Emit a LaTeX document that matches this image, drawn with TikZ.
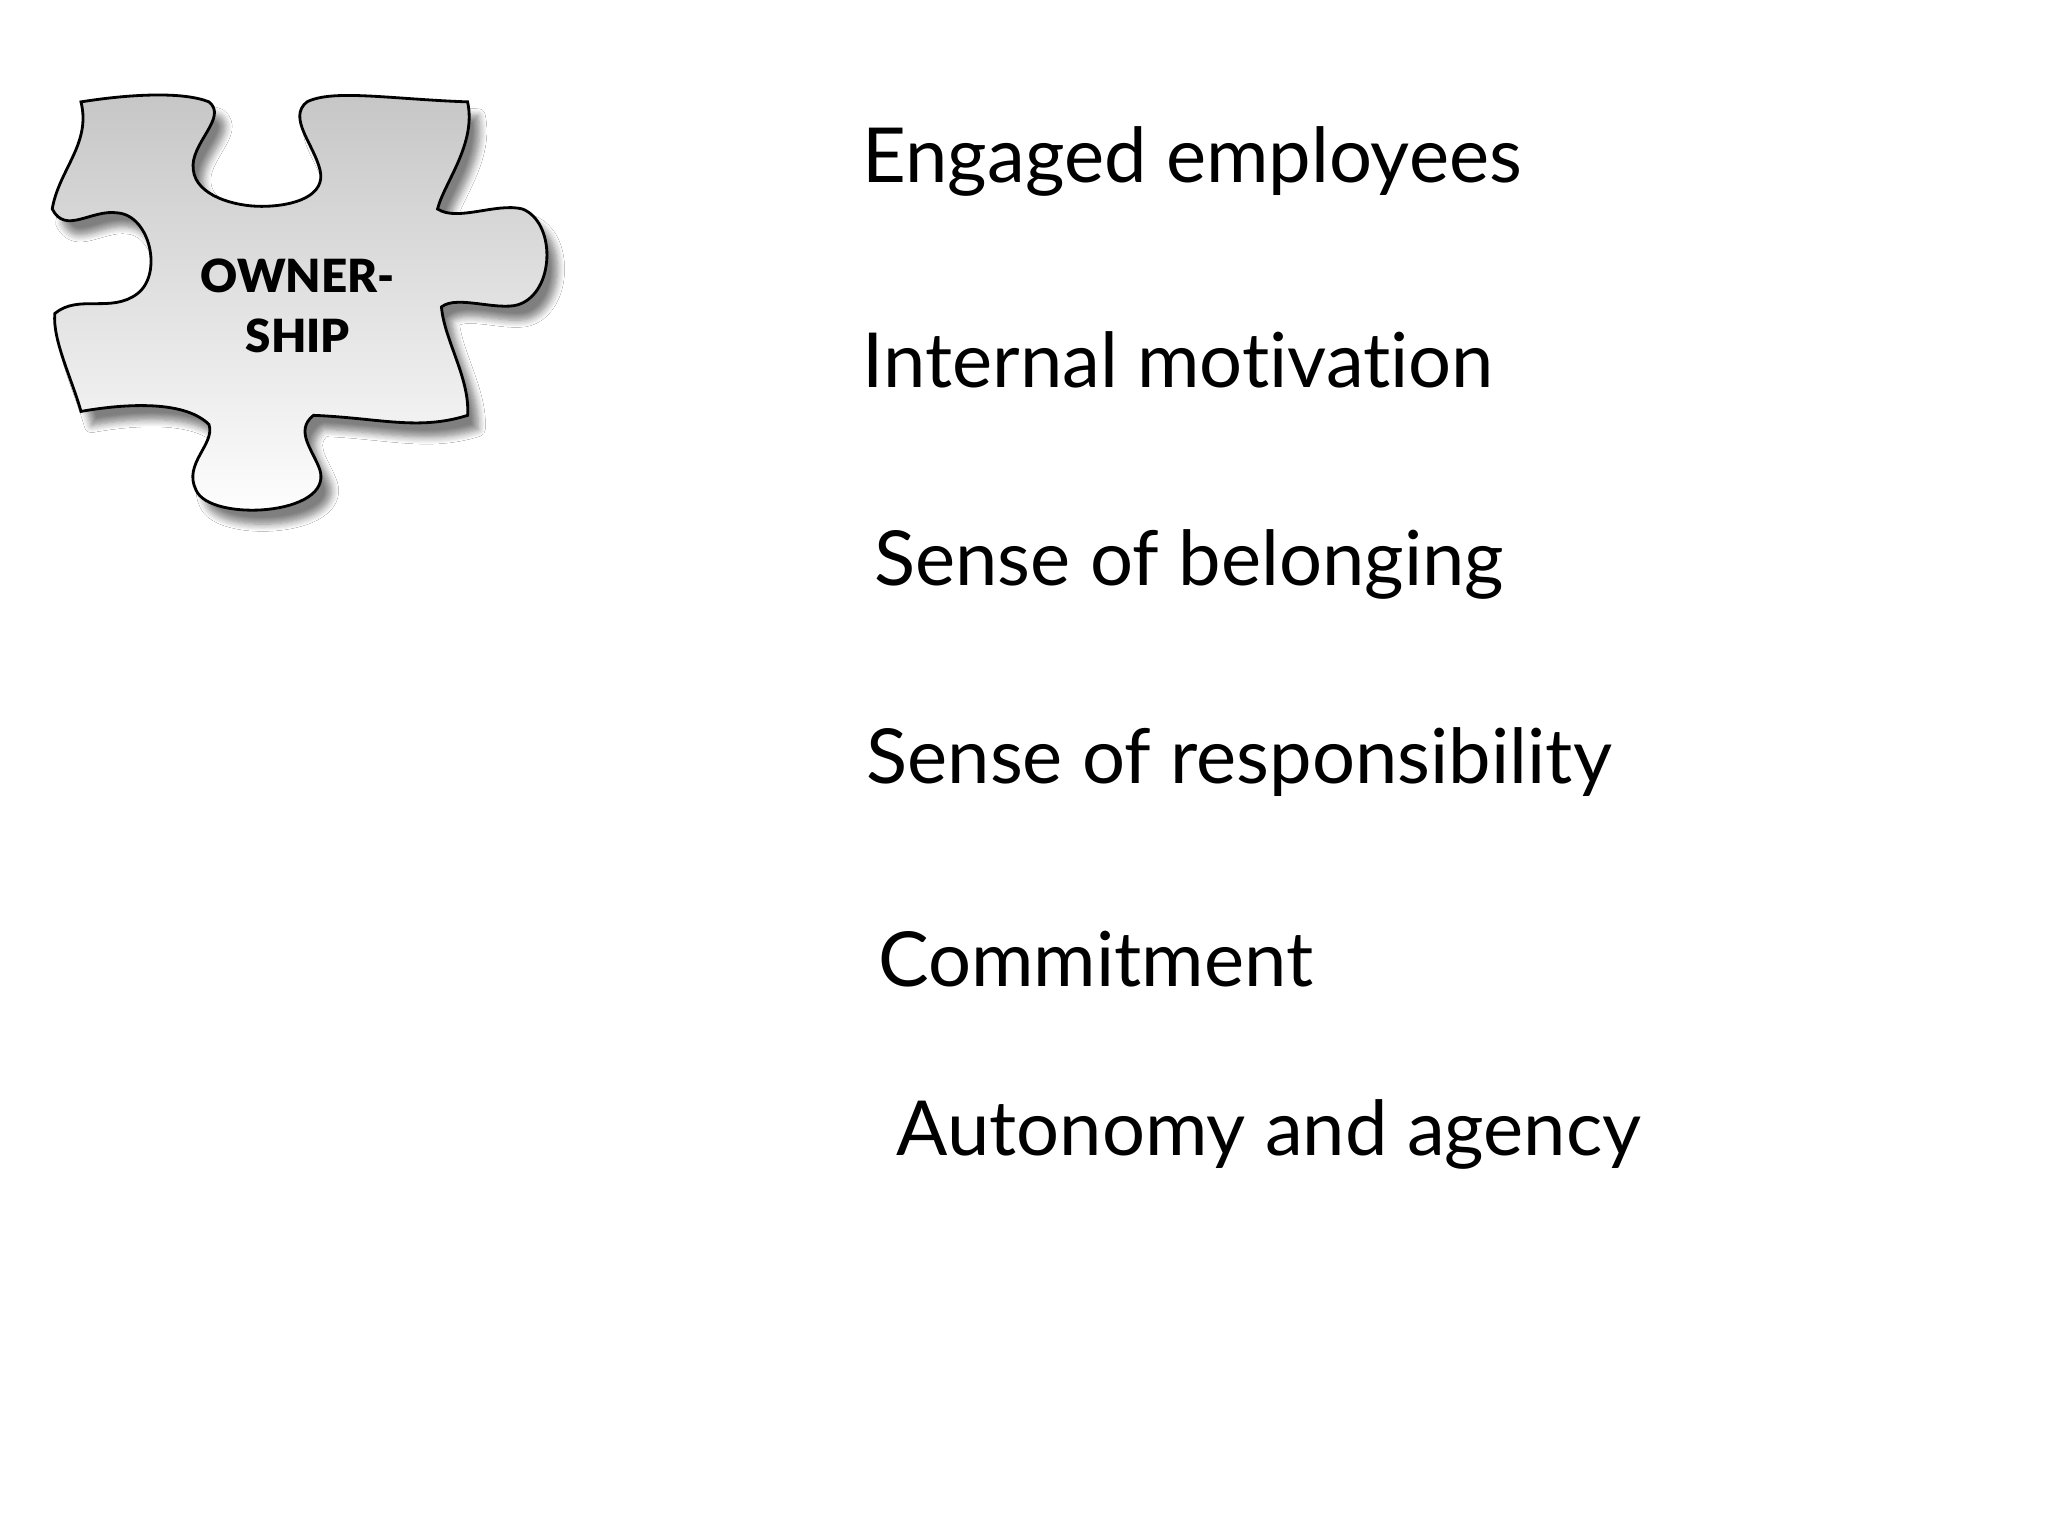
\documentclass[tikz,border=0pt]{standalone}
\usepackage{fontspec}
\setmainfont[Ligatures={NoCommon}]{Lato}
\newfontfamily\blackfont[Ligatures={NoCommon}]{Lato Black}
\usetikzlibrary{shadows.blur}
\tikzset{item/.style={anchor=base west,inner sep=0pt,font=\fontsize{21.6}{26}\selectfont}}
\begin{document}
\begin{tikzpicture}[x=0.01306cm,y=-0.01306cm]
\useasboundingbox[fill=white] (0,0) rectangle (1568,1176);
\draw[line width=0.8pt,top color=gray!45,bottom color=white,
  blur shadow={shadow xshift=3pt,shadow yshift=-4pt,shadow blur steps=8,shadow opacity=50}]
 (62,78) .. controls (100,72) and (140,70) .. (160,78)
 .. controls (175,90) and (145,110) .. (148,130)
 .. controls (150,150) and (180,158) .. (200,158)
 .. controls (225,158) and (250,150) .. (245,130)
 .. controls (240,110) and (220,90) .. (235,78)
 .. controls (255,68) and (300,76) .. (358,78)
 .. controls (365,110) and (340,140) .. (335,160)
 .. controls (350,170) and (380,155) .. (400,160)
 .. controls (425,170) and (425,220) .. (400,232)
 .. controls (385,240) and (350,225) .. (338,235)
 .. controls (340,260) and (360,290) .. (358,318)
 .. controls (320,330) and (290,320) .. (240,318)
 .. controls (225,330) and (240,345) .. (245,360)
 .. controls (255,395) and (160,400) .. (150,375)
 .. controls (140,355) and (165,340) .. (160,325)
 .. controls (140,305) and (90,310) .. (62,315)
 .. controls (55,290) and (40,260) .. (42,240)
 .. controls (60,225) and (85,240) .. (105,225)
 .. controls (125,210) and (115,165) .. (90,163)
 .. controls (70,160) and (50,180) .. (40,160)
 .. controls (45,130) and (70,110) .. (62,78) -- cycle;
\node[font=\blackfont\fontsize{13}{15}\selectfont,align=center,inner sep=0pt] (own) at (228,234) {OWNER-\\[2pt]SHIP};
\node[item] (t1) at (660,140) {Engaged employees};
\node[item] (t2) at (660,297) {Internal motivation};
\node[item] (t3) at (669,448) {Sense of belonging};
\node[item] (t4) at (663,600) {Sense of responsibility};
\node[item] (t5) at (672,755) {Commitment};
\node[item] (t6) at (686,885) {Autonomy and agency};
\end{tikzpicture}
\end{document}
